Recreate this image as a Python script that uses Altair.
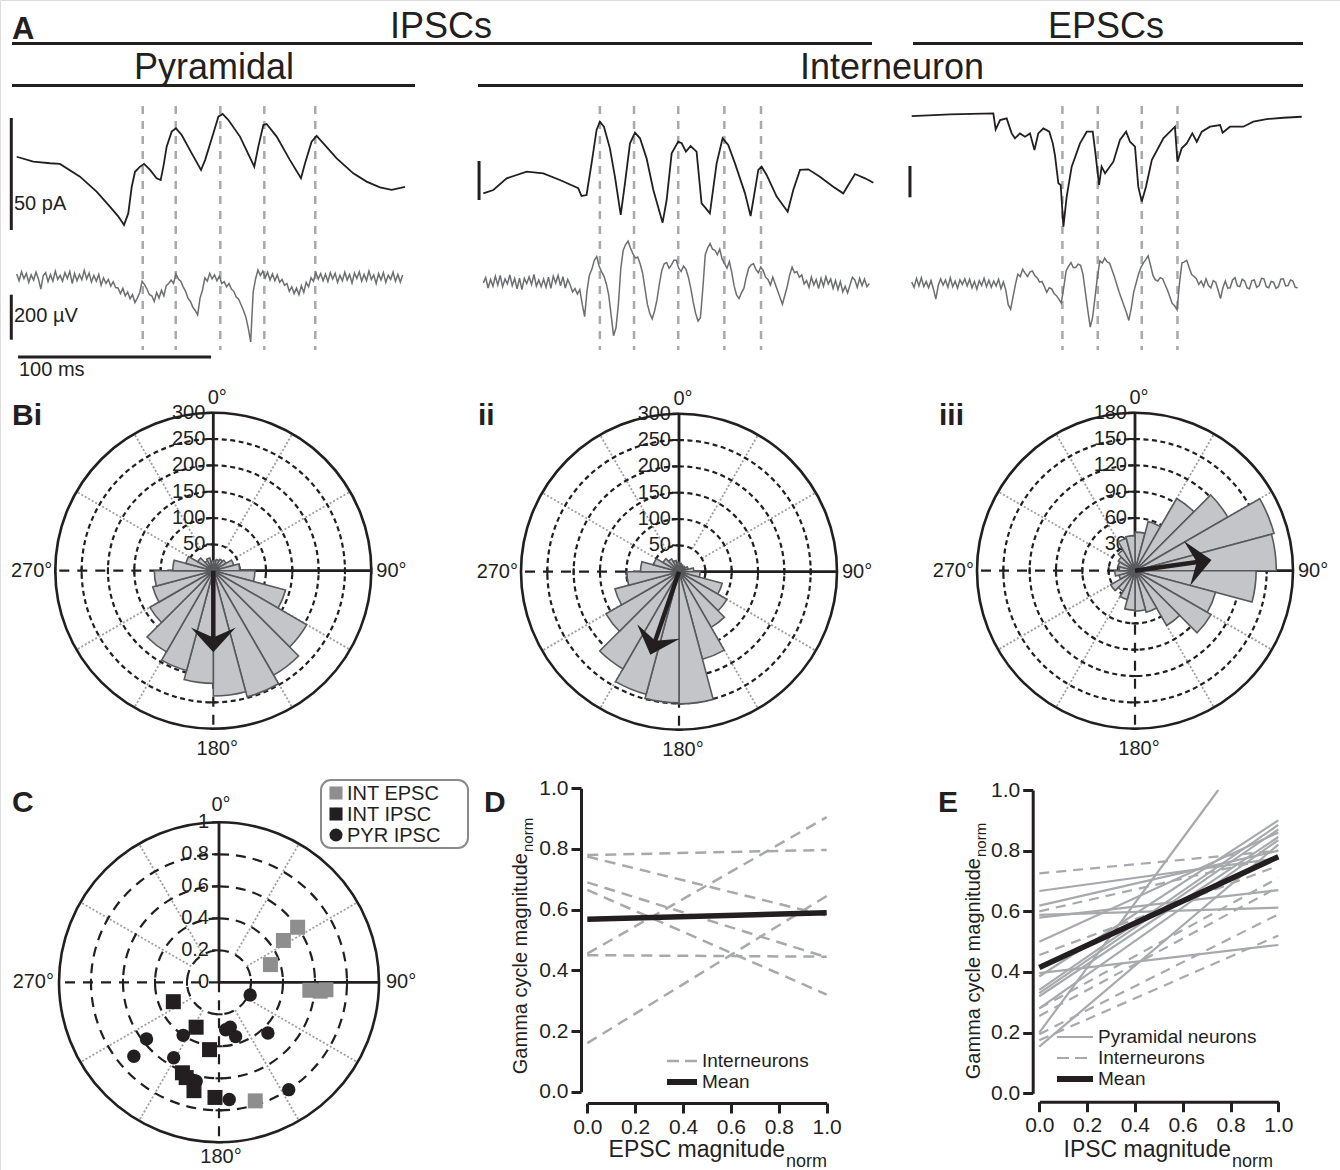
import altair as alt
import pandas as pd

FONT = "Liberation Sans"
BLACK = "#231f20"
LINE_GRAY = "#a7a9ac"
LFP_GRAY = "#6d6e71"
BAR_FILL = "#c3c5c8"
BAR_EDGE = "#58595b"
SPOKE_GRAY = "#9c9ea1"
SQ_GRAY = "#8e8e8e"
W, H = 1340, 1170

# ======================= DATA =======================
# ---- A: example traces (time ms, current pA, field potential uV)
pyr_ipsc_t = [0, 8.6, 17.3, 22.4, 32.8, 41.4, 48.3, 52.7, 55.6, 57.8, 59.6, 61.3, 63.9, 66.0, 69.1,
              72.5, 74.6, 76.0, 77.7, 80.3, 82.5, 85.5, 90.7, 95.5, 97.6, 101.9, 104.5, 106.7, 109.7,
              115.7, 123.1, 125.2, 127.8, 129.5, 134.7, 141.6, 147.3, 149.4, 152.8, 155.4, 158.9,
              165.8, 174.4, 181.3, 188.2, 194.3, 201.2]
pyr_ipsc_pa = [32.7, 30.5, 29.8, 29.5, 23.8, 17.1, 10.4, 6.0, 2.2, 7.4, 19.3, 26.0, 28.3, 29.5, 26.8,
               23.1, 22.3, 28.3, 37.2, 43.9, 45.4, 42.4, 34.2, 26.8, 31.2, 43.2, 50.6, 51.8, 49.1,
               41.7, 28.3, 37.2, 46.9, 47.3, 41.7, 31.2, 23.1, 29.8, 39.4, 42.0, 38.7,
               32.0, 25.3, 21.6, 19.0, 17.9, 19.3]
int_ipsc_t = [0, 5.2, 12.1, 22.5, 31.1, 39.7, 49.2, 50.9, 53.5, 56.1, 58.7, 60.4, 62.5, 65.6, 68.2,
              71.2, 73.4, 76.0, 78.6, 81.2, 84.6, 88.1, 92.9, 95.0, 97.6, 101.0, 102.8, 105.0, 107.4,
              110.5, 113.1, 114.9, 117.4, 120.9, 124.0, 126.9, 130.4, 135.6, 138.5, 140.2, 142.5,
              144.2, 146.8, 152.0, 157.7, 160.6, 164.1, 168.4, 174.4, 181.3, 186.5, 189.1, 192.6,
              197.8, 202.1]
int_ipsc_pa = [8.5, 12.8, 27.8, 36.3, 34.2, 25.6, 15.0, 5.1, 6.4, 47.0, 89.8, 100.4, 94.0, 66.2, 29.9,
               -19.2, 21.4, 72.7, 86.3, 79.1, 53.4, 12.8, -29.1, 0.0, 59.8, 74.8, 72.7, 62.0, 69.2,
               62.0, -4.3, -9.4, -17.1, 47.0, 79.1, 70.5, 47.0, 8.5, -20.5, 4.3, 38.5,
               42.7, 32.1, 4.3, -15.0, 12.8, 38.5, 39.3, 29.9, 17.1, 8.5, 19.2, 33.3,
               27.8, 22.2]
int_epsc_t = [0, 19.9, 42.3, 43.5, 45.8, 49.2, 51.8, 53.5, 56.1, 58.7, 61.3, 63.6, 65.6, 68.2, 71.3,
              73.1, 74.2, 76.0, 77.2, 78.6, 80.3, 82.9, 87.2, 90.7, 93.8, 95.0, 97.1, 98.4, 100.2,
              104.5, 107.9, 111.1, 113.1, 115.7, 117.4, 119.2, 121.4, 124.4, 130.4, 136.4, 137.7,
              139.9, 142.5, 145.4, 147.7, 150.3, 154.6, 159.8, 161.1, 164.9, 171.8, 177.0, 183.9,
              192.6, 202.1]
int_epsc_pa = [129.8, 132.5, 134.1, 108.5, 123.4, 126.1, 102.1, 94.2, 102.1, 96.8, 102.1, 75.5, 102.1,
               110.1, 104.8, 86.2, 67.6, 22.3, 19.7, -46.8, 1.1, 48.9, 86.2, 104.8, 104.8, 75.5, 19.7,
               48.9, 38.3, 56.9, 91.5, 104.8, 88.8, 80.9, 17.0, -6.9, 17.0, 59.6, 94.2, 112.8, 56.9,
               78.2, 86.2, 102.1, 88.8, 104.8, 112.8, 115.4, 103.2, 112.8, 112.8, 120.8, 125.0,
               127.1, 128.7]
lfp_t = [i * 1.25 for i in range(161)]  # sampling grid of the field traces (ms)
pyr_lfp_uv = [12, -18, 22, -8, 15, -25, 8, -15,
              20, -10, -55, 5, 18, -22, 10, -20,
              25, -12, 6, -20, 18, -8, 24, -30,
              14, -18, 10, -14, 28, -10, 16, -24,
              6, -20, 10, -38, -5, -30, -12, -42,
              -22, -48, -50, -75, -52, -85, -68, -98,
              -80, -115, -95, -70, -20, -35, -55, -80,
              -85, -110, -70, -95, -60, -85, -40, -30,
              -15, -30, 12, -10, -20, -45, -65, -95,
              -110, -135, -150, -170, -95, -60, -5, -20,
              15, -10, 8, -18, 2, -30, -22, -45,
              -30, -55, -65, -90, -100, -125, -150, -180,
              -230, -290, -70, -10, 30, 5, 25, -5,
              20, -15, 12, -18, 8, -25, -12, -38,
              -30, -65, -45, -75, -50, -80, -40, -70,
              -25, -45, -5, -20, 18, -10, 14, -18,
              12, -22, 18, -10, 15, -25, 6, -18,
              20, -15, 10, -28, 16, -8, 22, -20,
              10, -18, 25, -12, 8, -30, 14, -15,
              18, -25, 6, -12, 20, -20, 10, -24,
              8]
int_ipsc_lfp_uv = [-5, 18, -28, 10, -20, 24, -15, 28,
                   -22, 12, -10, 30, -18, 14, -32, 16,
                   -35, 15, -8, 22, -12, 32, -20, 8,
                   -22, 12, -25, 20, -30, 25, -6, 28,
                   -18, 22, -28, 10, -15, -45, -30, -55,
                   -35, -100, -155, -40, 30, 55, 95, 112,
                   70, 45, 25, -10, -60, -150, -240, -205,
                   -100, 60, 140, 165, 180, 150, 125, 105,
                   110, 80, 40, -30, -100, -140, -165, -130,
                   -80, -10, 50, 80, 85, 60, 75, 95,
                   95, 60, 45, 70, 55, 20, -30, -90,
                   -140, -175, -160, -30, 120, 150, 170, 145,
                   140, 120, 145, 100, 80, 60, 90, 40,
                   -20, -60, -75, -50, -30, 20, 60, 75,
                   80, 55, 40, 65, 50, 20, 10, -15,
                   20, -10, -40, -70, -100, -60, -20, 30,
                   65, 40, 45, 20, 30, -10, 5, -25,
                   20, -15, 10, -30, 15, -20, 22, -10,
                   12, -30, 5, -35, 0, -45, -20, -50,
                   -15, 20, 8, -25, 15, -18, 12, -22,
                   -8]
int_epsc_lfp_uv = [5, -18, 22, -12, 25, -15, 8, -20,
                   12, -25, -70, -10, 20, -8, 15, -18,
                   25, -15, 10, -22, 16, -5, 20, -12,
                   18, -20, 8, -26, 12, -10, 22, -15,
                   14, -18, 10, -12, 18, -24, 6, -30,
                   -95, -115, -60, -5, 40, 30, 62, 45,
                   30, 50, 55, 35, 25, 5, 8, -15,
                   -40, -20, -25, -45, -55, -70, -88, -20,
                   55, 75, 92, 70, 70, 85, 80, 40,
                   -40, -120, -195, -150, -60, 30, 100, 90,
                   112, 95, 90, 60, 30, -5, -40, -70,
                   -100, -130, -165, -110, -40, 0, 40, 70,
                   90, 105, 122, 80, 35, 15, 10, 25,
                   20, -5, -30, -60, -90, -100, -118, 0,
                   90, 95, 102, 70, 40, 30, 20, -5,
                   10, -15, 20, -10, -20, 12, 5, -30,
                   -68, -20, 10, -22, -20, 15, 25, -12,
                   -15, 18, 10, -20, -25, 12, 15, -18,
                   -10, 22, 20, -15, -20, 8, 5, -22,
                   -15, 18, 20, -12, -10, 15, 10, -18,
                   -20]
pyr_cycle_marks = [65.3, 82.4, 105.5, 128.3, 154.7]
int_ipsc_cycle_marks = [60.4, 78.1, 101.0, 124.9, 143.9]
int_epsc_cycle_marks = [78.1, 96.4, 119.2, 137.7]
cur_bar_pa = 50
lfp_bar_uv = [-280, -80]
time_bar_ms = [0.7, 100.7]

# ---- B: rose histograms (15 deg bins, event counts) and mean vectors
bin_width_deg = 15
bin_start_deg = [0, 15, 30, 45, 60, 75, 90, 105, 120, 135, 150, 165,
                 180, 195, 210, 225, 240, 255, 270, 285, 300, 315, 330, 345]
rose_pyr_ipsc = [19, 22, 25, 28, 40, 50, 79, 142, 205, 229, 248, 238,
                 214, 196, 178, 139, 119, 112, 77, 54, 34, 22, 25, 19]
rose_int_ipsc = [16, 14, 12, 14, 18, 28, 40, 85, 105, 122, 172, 251,
                 249, 241, 213, 160, 126, 99, 73, 50, 35, 28, 22, 18]
rose_int_epsc = [44, 58, 95, 122, 164, 161, 138, 95, 100, 72, 49, 46,
                 45, 34, 27, 32, 19, 23, 18, 20, 22, 27, 38, 40]
mean_angle = [180, 199, 82]
mean_length = [155, 167, 88]
rings_300 = [50, 100, 150, 200, 250]
rlabels_300 = [0, 50, 100, 150, 200, 250, 300]
rings_180 = [30, 60, 90, 120, 150]
rlabels_180 = [0, 30, 60, 90, 120, 150, 180]
spoke_deg = [30, 60, 120, 150, 210, 240, 300, 330]

# ---- C: preferred phase (deg) and vector strength
c_int_epsc_ang = [55, 57, 71, 95, 95, 94, 163]
c_int_epsc_r = [0.60, 0.48, 0.34, 0.57, 0.635, 0.67, 0.775]
c_int_ipsc_ang = [247, 207, 188, 202, 199, 193, 182]
c_int_ipsc_r = [0.31, 0.315, 0.425, 0.61, 0.63, 0.695, 0.72]
c_pyr_ipsc_ang = [112, 166, 163, 172, 136, 214, 232, 229, 211, 193, 175, 147]
c_pyr_ipsc_r = [0.21, 0.29, 0.355, 0.30, 0.44, 0.40, 0.575, 0.705, 0.55, 0.635, 0.735, 0.80]
rings_1 = [0.2, 0.4, 0.6, 0.8]
rlabels_1 = [0, 0.2, 0.4, 0.6, 0.8, 1]
rtext_1 = ["0", "0.2", "0.4", "0.6", "0.8", "1"]

# ---- D: EPSC magnitude vs gamma cycle magnitude (fits, x from 0 to 1)
d_int_x0 = [0.0, 0.0, 0.0, 0.0, 0.0, 0.0, 0.0]
d_int_x1 = [1.0, 1.0, 1.0, 1.0, 1.0, 1.0, 1.0]
d_int_y0 = [0.78, 0.775, 0.69, 0.665, 0.455, 0.45, 0.16]
d_int_y1 = [0.797, 0.58, 0.443, 0.32, 0.905, 0.445, 0.645]
d_mean_y = [0.568, 0.59]

# ---- E: IPSC magnitude vs gamma cycle magnitude
e_pyr_x0 = [0.0] * 13
e_pyr_x1 = [1.0, 1.0, 1.0, 1.0, 1.0, 1.0, 1.0, 1.0, 1.0, 1.0, 1.0, 1.0, 0.749]
e_pyr_y0 = [0.667, 0.619, 0.588, 0.579, 0.50, 0.396, 0.385, 0.341, 0.33, 0.32, 0.28, 0.154, 0.20]
e_pyr_y1 = [0.775, 0.80, 0.612, 0.67, 0.86, 0.489, 0.90, 0.885, 0.87, 0.845, 0.835, 0.82, 1.0]
e_int_x0 = [0.0, 0.0, 0.0, 0.0, 0.0, 0.0, 0.0]
e_int_x1 = [1.0, 1.0, 1.0, 1.0, 1.0, 1.0, 1.0]
e_int_y0 = [0.725, 0.60, 0.456, 0.28, 0.255, 0.195, 0.175]
e_int_y1 = [0.80, 0.78, 0.75, 0.71, 0.68, 0.59, 0.52]
e_mean_y = [0.415, 0.78]
axis_ticks = [0.0, 0.2, 0.4, 0.6, 0.8, 1.0]

# ======================= HELPERS =======================
layers = []
MS_PX = 1.93
HEAD = "M0,0L1,1.1L0,0.66L-1,1.1Z"


def lin(domain, rng):
    return alt.Scale(domain=domain, range=rng, nice=False, zero=False)


def one():
    return pd.DataFrame({"k": [0]})


def texts(labels, xs, ys, size, weight="normal", align="left", baseline="alphabetic", angle=None,
          color=BLACK):
    df = pd.DataFrame({"label": labels, "px": xs, "py": ys})
    kw = dict(font=FONT, fontSize=size, fontWeight=weight, align=align, baseline=baseline, color=color)
    if angle is not None:
        kw["angle"] = angle
    return alt.Chart(df).mark_text(**kw).encode(
        x=alt.X("px:Q", scale=None, axis=None), y=alt.Y("py:Q", scale=None, axis=None), text="label:N")


def seg(x0, x1, y0, y1, width, color=BLACK, dash=None):
    kw = dict(color=color, strokeWidth=width)
    if dash:
        kw["strokeDash"] = dash
    return alt.Chart(one()).mark_rule(**kw).encode(
        x=alt.value(x0), x2=alt.value(x1), y=alt.value(y0), y2=alt.value(y1))


# ======================= HEADERS =======================
layers += [
    texts(["A"], [12], [39], 31, "bold"),
    texts(["IPSCs", "EPSCs"], [441, 1106], [38, 38], 36, align="center"),
    seg(12, 872, 43.5, 43.5, 3), seg(913, 1303, 43.5, 43.5, 3),
    texts(["Pyramidal", "Interneuron"], [214, 892], [79, 79], 36, align="center"),
    seg(12, 415, 85.5, 85.5, 3), seg(478, 1303, 85.5, 85.5, 3),
]


# ======================= PANEL A =======================
def trace_panel(x0, cur_rng, lfp_rng, ct, cv, lv, marks, bar_t, full=False):
    sx = lin([0, 200], [x0, x0 + 200 * MS_PX])
    sc = lin([0, 50], cur_rng)
    sl = lin([-300, 100], lfp_rng)
    X = alt.X("t:Q", scale=sx, axis=None)
    out = [
        alt.Chart(pd.DataFrame({"t": marks})).mark_rule(color=LINE_GRAY, strokeWidth=2.5, strokeDash=[8, 7])
        .encode(x=X, y=alt.value(106), y2=alt.value(350)),
        alt.Chart(pd.DataFrame({"t": ct, "v": cv})).mark_line(color=BLACK, strokeWidth=1.8)
        .encode(x=X, y=alt.Y("v:Q", scale=sc, axis=None)),
        alt.Chart(pd.DataFrame({"t": lfp_t, "v": lv})).mark_line(color=LFP_GRAY, strokeWidth=1.5)
        .encode(x=X, y=alt.Y("v:Q", scale=sl, axis=None)),
        alt.Chart(pd.DataFrame({"t": [bar_t], "v0": [0], "v1": [cur_bar_pa]})).mark_rule(color=BLACK, strokeWidth=3)
        .encode(x=X, y=alt.Y("v0:Q", scale=sc, axis=None), y2="v1:Q"),
    ]
    if full:
        out.append(alt.Chart(pd.DataFrame({"t": [bar_t], "v0": [lfp_bar_uv[0]], "v1": [lfp_bar_uv[1]]}))
                   .mark_rule(color=BLACK, strokeWidth=3)
                   .encode(x=X, y=alt.Y("v0:Q", scale=sl, axis=None), y2="v1:Q"))
        out.append(alt.Chart(pd.DataFrame({"t0": [time_bar_ms[0]], "t1": [time_bar_ms[1]]}))
                   .mark_rule(color=BLACK, strokeWidth=3)
                   .encode(x=alt.X("t0:Q", scale=sx, axis=None), x2="t1:Q", y=alt.value(357)))
    return out


layers += trace_panel(16.7, [230, 118], [344.2, 254.2], pyr_ipsc_t, pyr_ipsc_pa, pyr_lfp_uv,
                      pyr_cycle_marks, -2.8, full=True)
layers += trace_panel(483.3, [200, 161], [349.2, 259.2], int_ipsc_t, int_ipsc_pa, int_ipsc_lfp_uv,
                      int_ipsc_cycle_marks, -2.2)
layers += trace_panel(911.7, [197.3, 166], [350.8, 260.8], int_epsc_t, int_epsc_pa, int_epsc_lfp_uv,
                      int_epsc_cycle_marks, -0.9)
layers += [texts(["50 pA", "200 µV"], [14, 14], [204, 316], 20, baseline="middle"),
           texts(["100 ms"], [19], [370], 20, baseline="middle")]


# ======================= POLAR FRAMES =======================
def polar_frame(cx, cy, R, rmax, rings, rlabels, rtexts, ring_dash, pads):
    sx = lin([-rmax, rmax], [cx - R, cx + R])
    sy = lin([-rmax, rmax], [cy + R, cy - R])
    sr = alt.Scale(type="linear", domain=[0, rmax], range=[0, R], nice=False, zero=True)
    k = rmax / R
    deg = "PI/180"

    def XY(fx, fy):
        return dict(x=alt.X(fx, scale=sx, axis=None), y=alt.Y(fy, scale=sy, axis=None))

    out = []
    out.append(alt.Chart(pd.DataFrame({"a": spoke_deg})).transform_calculate(
        x0=f"{rings[0]}*sin(datum.a*{deg})", y0=f"{rings[0]}*cos(datum.a*{deg})",
        x1=f"{rmax}*sin(datum.a*{deg})", y1=f"{rmax}*cos(datum.a*{deg})"
    ).mark_rule(color=SPOKE_GRAY, strokeWidth=1.8, strokeDash=[2, 2]).encode(
        **XY("x0:Q", "y0:Q"), x2="x1:Q", y2="y1:Q"))

    def ring_layer(rs, dash, width):
        kw = dict(fill="white", fillOpacity=0, stroke=BLACK, strokeWidth=width)
        if dash:
            kw["strokeDash"] = dash
        return alt.Chart(pd.DataFrame({"r": rs})).transform_calculate(c="0", a0="0", a1="2*PI").mark_arc(
            **kw).encode(**XY("c:Q", "c:Q"), theta=alt.Theta("a0:Q", scale=None), theta2="a1:Q",
                         radius=alt.Radius("r:Q", scale=sr))

    out.append(ring_layer(rings, ring_dash, 2.2))
    out.append(ring_layer([rmax], None, 2.6))

    def axis_lines(angles, dash, width):
        kw = dict(color=BLACK, strokeWidth=width)
        if dash:
            kw["strokeDash"] = dash
        return alt.Chart(pd.DataFrame({"a": angles})).transform_calculate(
            x0="0", y0="0", x1=f"{rmax}*sin(datum.a*{deg})", y1=f"{rmax}*cos(datum.a*{deg})"
        ).mark_rule(**kw).encode(**XY("x0:Q", "y0:Q"), x2="x1:Q", y2="y1:Q")

    out.append(axis_lines([180, 270], [10, 8], 2.2))
    out.append(axis_lines([0, 90], None, 2.8))

    rows = []
    for a in [0, 90, 180, 270]:
        for r in rings + [rmax]:
            s0, s1 = (-2, 0) if a == 0 else (-1, 1)
            rows.append({"a": a, "r": r, "s0": s0, "s1": s1})
    h = 3.5 * k
    out.append(alt.Chart(pd.DataFrame(rows)).transform_calculate(
        x0=f"datum.r*sin(datum.a*{deg}) + datum.s0*{h}*cos(datum.a*{deg})",
        y0=f"datum.r*cos(datum.a*{deg}) - datum.s0*{h}*sin(datum.a*{deg})",
        x1=f"datum.r*sin(datum.a*{deg}) + datum.s1*{h}*cos(datum.a*{deg})",
        y1=f"datum.r*cos(datum.a*{deg}) - datum.s1*{h}*sin(datum.a*{deg})",
    ).mark_rule(color=BLACK, strokeWidth=2).encode(**XY("x0:Q", "y0:Q"), x2="x1:Q", y2="y1:Q"))

    out.append(alt.Chart(pd.DataFrame({"r": rlabels, "label": rtexts})).transform_calculate(c="0").mark_text(
        font=FONT, fontSize=20, align="right", baseline="middle", dx=pads["r"], color=BLACK
    ).encode(**XY("c:Q", "r:Q"), text="label:N"))

    def alab(text, px, py, **kw):
        return alt.Chart(pd.DataFrame({"px": [px], "py": [py], "label": [text]})).mark_text(
            font=FONT, fontSize=20, color=BLACK, **kw).encode(**XY("px:Q", "py:Q"), text="label:N")

    out.append(alab("0°", 0, rmax, align="center", baseline="alphabetic", dx=pads["cx"], dy=pads["top"]))
    out.append(alab("90°", rmax, 0, align="left", baseline="middle", dx=pads["right"]))
    out.append(alab("180°", 0, -rmax, align="center", baseline="top", dx=pads["cx"], dy=pads["bottom"]))
    out.append(alab("270°", -rmax, 0, align="right", baseline="middle", dx=pads["left"]))
    return out, XY, sr, k


def rose_layer(XY, sr, counts):
    return alt.Chart(pd.DataFrame({"a": bin_start_deg, "n": counts})).transform_calculate(
        c="0", t0="datum.a*PI/180", t1=f"(datum.a+{bin_width_deg})*PI/180"
    ).mark_arc(fill=BAR_FILL, stroke=BAR_EDGE, strokeWidth=1.6).encode(
        **XY("c:Q", "c:Q"), theta=alt.Theta("t0:Q", scale=None), theta2="t1:Q",
        radius=alt.Radius("n:Q", scale=sr))


def arrow_layers(XY, k, ang, length):
    base = alt.Chart(pd.DataFrame({"ang": [ang], "len": [length]})).transform_calculate(
        x0="0", y0="0",
        xs=f"(datum.len-{14 * k})*sin(datum.ang*PI/180)", ys=f"(datum.len-{14 * k})*cos(datum.ang*PI/180)",
        xt="datum.len*sin(datum.ang*PI/180)", yt="datum.len*cos(datum.ang*PI/180)")
    shaft = base.mark_rule(color=BLACK, strokeWidth=4.5).encode(**XY("x0:Q", "y0:Q"), x2="xs:Q", y2="ys:Q")
    head = base.mark_point(shape=HEAD, filled=True, color=BLACK, size=2025, opacity=1).encode(
        **XY("xt:Q", "yt:Q"), angle=alt.Angle("ang:Q", scale=None))
    return [shaft, head]


B_PADS = {"r": -8, "cx": 4, "top": -9, "bottom": 10, "right": 5, "left": -3}
for (cx, cy), counts, rmax, rings, rl, i in [
    ((213.3, 570.7), rose_pyr_ipsc, 300, rings_300, rlabels_300, 0),
    ((679.0, 571.7), rose_int_ipsc, 300, rings_300, rlabels_300, 1),
    ((1135.0, 570.7), rose_int_epsc, 180, rings_180, rlabels_180, 2),
]:
    fr, XY, sr, k = polar_frame(cx, cy, 158, rmax, rings, rl, [str(v) for v in rl], [5, 3.5], B_PADS)
    layers += fr
    layers.append(rose_layer(XY, sr, counts))
    layers += arrow_layers(XY, k, mean_angle[i], mean_length[i])

layers.append(texts(["Bi", "ii", "iii"], [12, 478, 939], [425, 425, 425], 30, "bold"))

# ======================= PANEL C =======================
C_PADS = {"r": -10, "cx": 2, "top": -11, "bottom": 5, "right": 7, "left": -5}
fr, XYc, src, kc = polar_frame(219, 982.3, 160, 1, rings_1, rlabels_1, rtext_1, [10, 7], C_PADS)
layers += fr


def polar_points(XY, ang, r, shape, color, size):
    return alt.Chart(pd.DataFrame({"a": ang, "r": r})).transform_calculate(
        px="datum.r*sin(datum.a*PI/180)", py="datum.r*cos(datum.a*PI/180)"
    ).mark_point(shape=shape, filled=True, color=color, size=size, opacity=1).encode(**XY("px:Q", "py:Q"))


layers += [
    polar_points(XYc, c_int_epsc_ang, c_int_epsc_r, "square", SQ_GRAY, 225),
    polar_points(XYc, c_int_ipsc_ang, c_int_ipsc_r, "square", BLACK, 225),
    polar_points(XYc, c_pyr_ipsc_ang, c_pyr_ipsc_r, "circle", BLACK, 180),
]
layers += [
    alt.Chart(one()).mark_rect(fill="white", stroke="#8a8a8a", strokeWidth=2, cornerRadius=10).encode(
        x=alt.value(321), x2=alt.value(468), y=alt.value(780), y2=alt.value(848)),
    alt.Chart(one()).mark_point(shape="square", filled=True, color=SQ_GRAY, size=170, opacity=1).encode(
        x=alt.value(336), y=alt.value(793)),
    alt.Chart(one()).mark_point(shape="square", filled=True, color=BLACK, size=170, opacity=1).encode(
        x=alt.value(336), y=alt.value(814)),
    alt.Chart(one()).mark_point(shape="circle", filled=True, color=BLACK, size=170, opacity=1).encode(
        x=alt.value(336), y=alt.value(835)),
    texts(["INT EPSC", "INT IPSC", "PYR IPSC"], [347, 347, 347], [794, 815, 836], 20, baseline="middle"),
    texts(["C", "D", "E"], [12, 484, 938], [812, 812, 812], 30, "bold"),
]


# ======================= PANELS D & E =======================
def make_axes(yaxis_x, xaxis_y):
    common = dict(title=None, grid=False, domainColor=BLACK, domainWidth=3, tickColor=BLACK, tickWidth=3,
                  tickSize=10, labelFont=FONT, labelFontSize=21, labelColor=BLACK, labelPadding=3,
                  values=axis_ticks, format=".1f", labelFlush=False, labelOverlap=False)
    return (alt.Axis(orient="bottom", offset=xaxis_y - H, **common),
            alt.Axis(orient="left", offset=-yaxis_x, **common))


def fit_lines(sx, sy, x0, x1, y0, y1, color, width, dash=None):
    kw = dict(color=color, strokeWidth=width)
    if dash:
        kw["strokeDash"] = dash
    return alt.Chart(pd.DataFrame({"x0": x0, "x1": x1, "y0": y0, "y1": y1})).mark_rule(**kw).encode(
        x=alt.X("x0:Q", scale=sx, axis=None), y=alt.Y("y0:Q", scale=sy, axis=None), x2="x1:Q", y2="y1:Q")


def mean_line(sx, sy, ys, ax_x, ax_y):
    return alt.Chart(pd.DataFrame({"x0": [0.0], "x1": [1.0], "y0": [ys[0]], "y1": [ys[1]]})).mark_rule(
        color=BLACK, strokeWidth=5.5).encode(
        x=alt.X("x0:Q", scale=sx, axis=ax_x), y=alt.Y("y0:Q", scale=sy, axis=ax_y), x2="x1:Q", y2="y1:Q")


sxD = lin([0, 1], [587.3, 826.7])
syD = lin([0, 1], [1091.7, 788.3])
axxD, axyD = make_axes(581, 1103)
layers += [
    fit_lines(sxD, syD, d_int_x0, d_int_x1, d_int_y0, d_int_y1, LINE_GRAY, 2.5, [11, 7]),
    mean_line(sxD, syD, d_mean_y, axxD, axyD),
    seg(667, 697, 1061, 1061, 2.5, LINE_GRAY, [12, 6]),
    seg(667, 697, 1082, 1082, 6),
    texts(["Interneurons", "Mean"], [702, 702], [1061, 1082], 19, baseline="middle"),
    texts(["EPSC magnitude"], [785], [1157], 23, align="right"),
    texts(["norm"], [786], [1167], 18),
    texts(["Gamma cycle magnitude"], [527], [853], 20, align="right", angle=270),
    texts(["norm"], [533], [852], 15, angle=270),
]

sxE = lin([0, 1], [1039.3, 1278.3])
syE = lin([0, 1], [1093.3, 790])
axxE, axyE = make_axes(1032.7, 1101.7)
layers += [
    fit_lines(sxE, syE, e_pyr_x0, e_pyr_x1, e_pyr_y0, e_pyr_y1, LINE_GRAY, 2.2),
    fit_lines(sxE, syE, e_int_x0, e_int_x1, e_int_y0, e_int_y1, LINE_GRAY, 2.2, [10, 7]),
    mean_line(sxE, syE, e_mean_y, axxE, axyE),
    seg(1057, 1093, 1037, 1037, 2.2, LINE_GRAY),
    seg(1057, 1093, 1058, 1058, 2.2, LINE_GRAY, [12, 6]),
    seg(1057, 1093, 1079, 1079, 6),
    texts(["Pyramidal neurons", "Interneurons", "Mean"], [1098, 1098, 1098], [1037, 1058, 1079], 19,
          baseline="middle"),
    texts(["IPSC magnitude"], [1231], [1157], 23, align="right"),
    texts(["norm"], [1232], [1167], 18),
    texts(["Gamma cycle magnitude"], [980], [858], 20, align="right", angle=270),
    texts(["norm"], [986], [857], 15, angle=270),
]

chart = alt.layer(*layers).resolve_scale(
    x="independent", y="independent", radius="independent"
).properties(
    width=W, height=H, autosize=alt.AutoSizeParams(type="none"), padding=0
).configure_view(strokeWidth=0).configure(font=FONT)

chart.save("out.html", embed_options={"renderer": "svg", "actions": False})
